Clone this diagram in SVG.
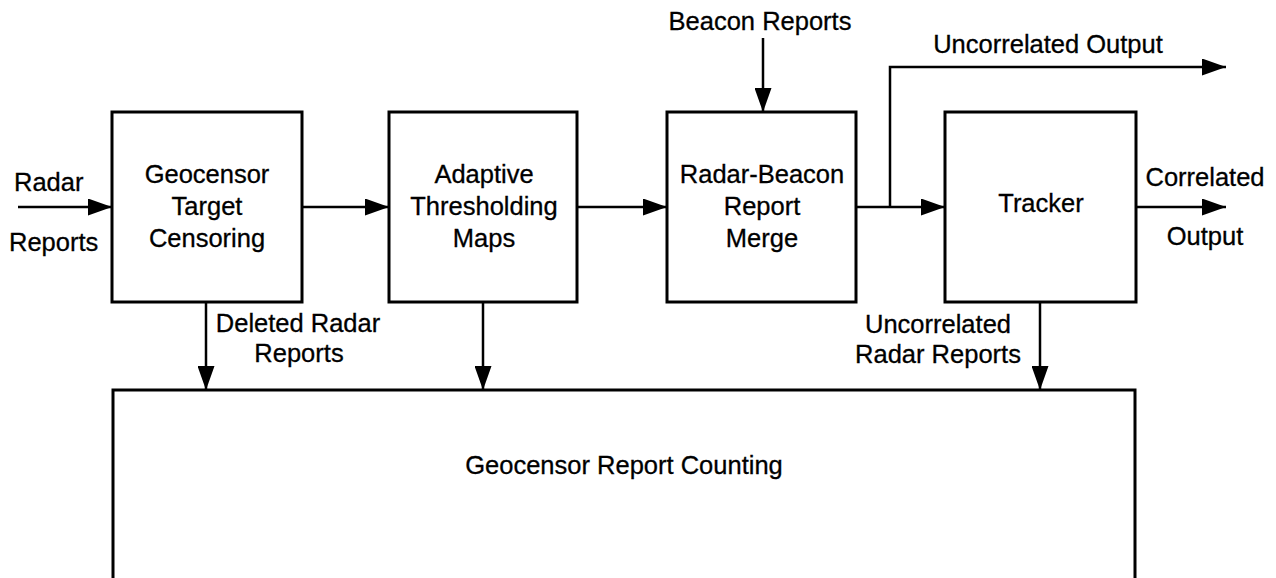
<svg xmlns="http://www.w3.org/2000/svg" width="1276" height="578" viewBox="0 0 1276 578">
<defs>
<marker id="ah" markerWidth="24" markerHeight="17" refX="24" refY="8.5" orient="auto" markerUnits="userSpaceOnUse">
<path d="M0,0 L24,8.5 L0,17 Z" fill="#000"/>
</marker>
<style>
.box{fill:#fff;stroke:#000;stroke-width:3}
.ar{fill:none;stroke:#000;stroke-width:2.5;marker-end:url(#ah)}
text{font-family:"Liberation Sans",Arial,sans-serif;font-size:25.5px;fill:#000;stroke:#000;stroke-width:0.3}
.c{text-anchor:middle}
</style>
</defs>
<rect width="1276" height="578" fill="#fff"/>
<g id="geocensor">
<rect class="box" x="112" y="112" width="190" height="190"/>
<text class="c" x="207" y="183">Geocensor</text>
<text class="c" x="207" y="215">Target</text>
<text class="c" x="207" y="247">Censoring</text>
</g>
<g id="adaptive">
<rect class="box" x="389" y="112" width="188" height="190"/>
<text class="c" x="484" y="183">Adaptive</text>
<text class="c" x="484" y="215">Thresholding</text>
<text class="c" x="484" y="247">Maps</text>
</g>
<g id="merge">
<rect class="box" x="667" y="112" width="189" height="190"/>
<text class="c" x="762" y="183">Radar-Beacon</text>
<text class="c" x="762" y="215">Report</text>
<text class="c" x="762" y="247">Merge</text>
</g>
<g id="tracker">
<rect class="box" x="945" y="112" width="191" height="190"/>
<text class="c" x="1041" y="212">Tracker</text>
</g>
<g id="counting">
<path class="box" d="M113,580 L113,390 L1135,390 L1135,580"/>
<text class="c" x="624" y="474">Geocensor Report Counting</text>
</g>
<g id="connectors">
<line class="ar" x1="18" y1="207" x2="112" y2="207"/>
<line class="ar" x1="302" y1="207" x2="389" y2="207"/>
<line class="ar" x1="577" y1="207" x2="667" y2="207"/>
<line class="ar" x1="856" y1="207" x2="945" y2="207"/>
<line class="ar" x1="1136" y1="207" x2="1226" y2="207"/>
<polyline class="ar" points="890,207 890,67 1226,67"/>
<line class="ar" x1="763" y1="38" x2="763" y2="112"/>
<line class="ar" x1="206" y1="302" x2="206" y2="390"/>
<line class="ar" x1="483" y1="302" x2="483" y2="390"/>
<line class="ar" x1="1040" y1="302" x2="1040" y2="390"/>
</g>
<g id="labels">
<text x="14" y="191">Radar</text>
<text x="9" y="251">Reports</text>
<text class="c" x="760" y="30">Beacon Reports</text>
<text class="c" x="1048" y="53">Uncorrelated Output</text>
<text class="c" x="1205" y="186">Correlated</text>
<text class="c" x="1205" y="245">Output</text>
<text class="c" x="298" y="332">Deleted Radar</text>
<text class="c" x="299" y="362">Reports</text>
<text class="c" x="938" y="333">Uncorrelated</text>
<text class="c" x="938" y="363">Radar Reports</text>
</g>
</svg>
